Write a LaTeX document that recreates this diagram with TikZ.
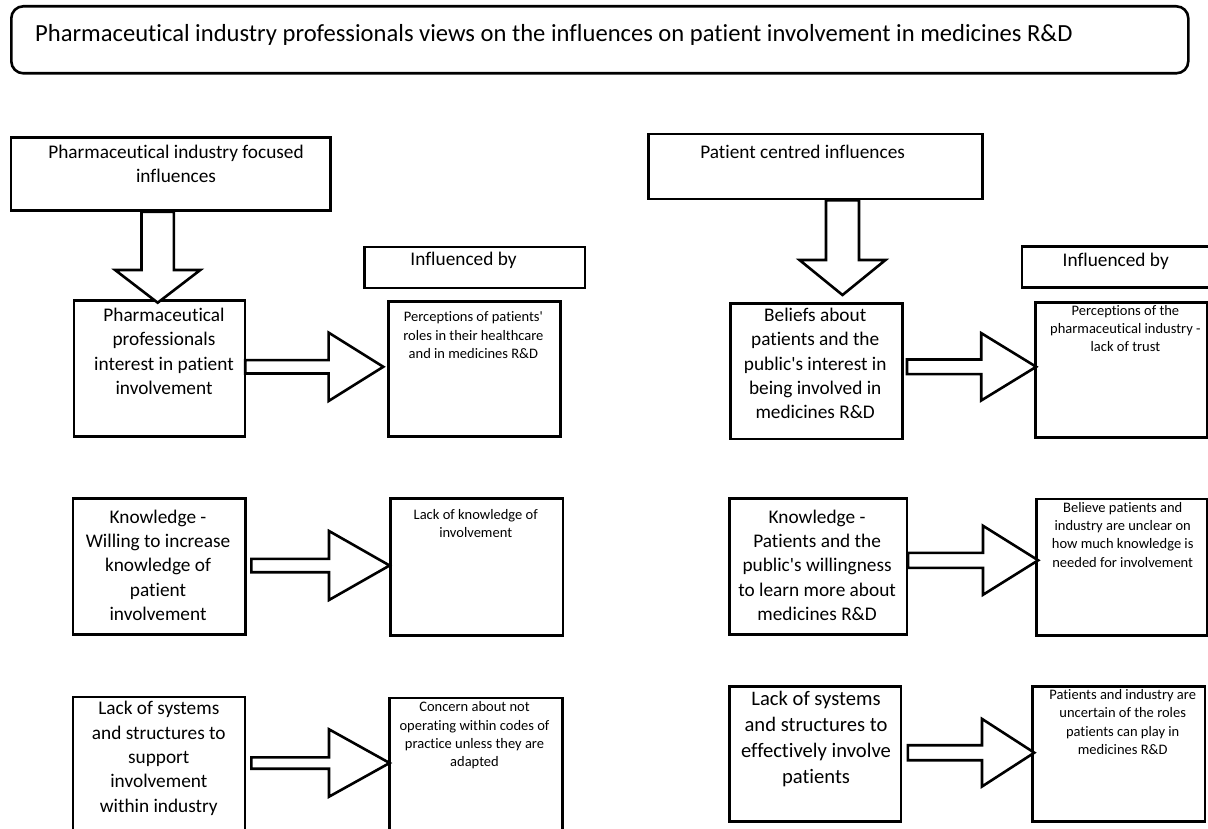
\documentclass[tikz,border=0pt]{standalone}
\usepackage{fontspec}
\setmainfont{Carlito}[Ligatures={NoCommon}]
\usetikzlibrary{calc}
\newcommand\apo{\textquotesingle}
% right block arrow: #1 src, #2 tgt, #3 start gap, #4 y centre (px), #5 shaft half, #6 head half, #7 head length, #8 tip offset
\newcommand\blockR[8]{%
  \draw[arrst] let \p1=(#1.east), \p2=(#2.west) in
   (\x1+#3pt,-#4pt+#5pt) -- (\x2-#7pt+#8pt,-#4pt+#5pt) -- (\x2-#7pt+#8pt,-#4pt+#6pt)
   -- (\x2+#8pt,-#4pt) -- (\x2-#7pt+#8pt,-#4pt-#6pt) -- (\x2-#7pt+#8pt,-#4pt-#5pt)
   -- (\x1+#3pt,-#4pt-#5pt) -- cycle;}
% down block arrow: #1 src, #2 tgt, #3 x centre, #4 shaft half, #5 head half, #6 head length, #7 tip offset (up)
\newcommand\blockD[7]{%
  \draw[arrst] let \p1=(#1.south), \p2=(#2.north) in
   (#3pt-#4pt,\y1) -- (#3pt-#4pt,\y2+#7pt+#6pt) -- (#3pt-#5pt,\y2+#7pt+#6pt)
   -- (#3pt,\y2+#7pt) -- (#3pt+#5pt,\y2+#7pt+#6pt) -- (#3pt+#4pt,\y2+#7pt+#6pt)
   -- (#3pt+#4pt,\y1) -- cycle;}
\begin{document}
\begin{tikzpicture}[x=1pt,y=-1pt,
  boxst/.style={draw=black, line width=2.6pt, inner sep=0pt, anchor=north west},
  arrst/.style={draw=black, line width=2.6pt, fill=white, line join=miter},
  big/.style={font=\fontsize{19.3}{24.3}\selectfont, align=center, inner sep=0pt, anchor=north},
  bigger/.style={font=\fontsize{20.6}{26}\selectfont, align=center, inner sep=0pt, anchor=north},
  small/.style={font=\fontsize{14.5}{18.3}\selectfont, align=center, inner sep=0pt, anchor=north}]
\clip (0,0) rectangle (1208,829);
\fill[white] (0,0) rectangle (1208,829);

% title
\node[boxst, rounded corners=12pt, minimum width=1177pt, minimum height=67pt] (title) at (10,5) {};
\node[font=\fontsize{24.6}{29}\selectfont, anchor=west, inner sep=0pt] (titletext) at (35,34.5) {Pharmaceutical industry professionals views on the influences on patient involvement in medicines R\&D};

% boxes
\node[boxst, minimum width=319.8pt, minimum height=73.3pt] (lt) at (9.6,136) {};
\node[boxst, minimum width=333.9pt, minimum height=65pt] (rt) at (647.3,132.7) {};
\node[boxst, minimum width=171.2pt, minimum height=135.7pt] (p1) at (72.6,299.3) {};
\node[boxst, minimum width=220.5pt, minimum height=41pt] (ib1) at (363,245.7) {};
\node[boxst, minimum width=172pt, minimum height=135pt] (r1) at (387,300) {};
\node[boxst, minimum width=172.3pt, minimum height=135.4pt] (b1) at (729,302.3) {};
\node[boxst, minimum width=195pt, minimum height=41pt] (ib2) at (1020.7,245) {};
\node[boxst, minimum width=171.7pt, minimum height=135pt] (s1) at (1034.3,301) {};
\node[boxst, minimum width=172.6pt, minimum height=136pt] (kl) at (71.6,497.3) {};
\node[boxst, minimum width=172.6pt, minimum height=136.7pt] (rkl) at (389.2,497.3) {};
\node[boxst, minimum width=172.2pt, minimum height=140pt] (ll) at (71.6,695.7) {};
\node[boxst, minimum width=172.6pt, minimum height=140pt] (rll) at (388.4,696.7) {};
\node[boxst, minimum width=177.5pt, minimum height=136pt] (kr) at (728,497.3) {};
\node[boxst, minimum width=171pt, minimum height=136.3pt] (rkr) at (1035,497.7) {};
\node[boxst, minimum width=171.7pt, minimum height=135pt] (lr) at (728,685) {};
\node[boxst, minimum width=172.5pt, minimum height=135pt] (rlr) at (1031.2,685) {};

% arrows
\blockD{lt}{p1}{157.7}{16.2}{42.6}{32.7}{-3.4}
\blockD{rt}{b1}{842.5}{16.5}{43}{35}{7.3}
\blockR{p1}{r1}{-1.2}{366.8}{6.7}{34.2}{54.7}{-3.7}
\blockR{kl}{rkl}{4.6}{565.5}{6.7}{34.5}{60.6}{0.4}
\blockR{ll}{rll}{5}{763}{5.7}{33.7}{60.6}{1.2}
\blockR{b1}{s1}{3.1}{366.8}{7.3}{33.7}{55}{1.9}
\blockR{kr}{rkr}{0}{560.3}{7.5}{34.5}{55.2}{3.2}
\blockR{lr}{rlr}{5.5}{752.7}{7.5}{33.8}{52.3}{3.1}

% texts
\node[big] (tlt) at (176,145) {Pharmaceutical industry focused\\influences};
\node[big] (trt) at (802.6,144.5) {Patient centred influences};
\node[big] (tib1) at (463.5,252) {Influenced by};
\node[big] (tib2) at (1115.7,252.5) {Influenced by};
\node[big] (tp1) at (164,307.8) {Pharmaceutical\\professionals\\interest in patient\\involvement};
\node[small] (tr1) at (473.4,311.7) {Perceptions of patients\apo\\roles in their healthcare\\and in medicines R\&D};
\node[big] (tb1) at (815.2,307.8) {Beliefs about\\patients and the\\public\apo s interest in\\being involved in\\medicines R\&D};
\node[small] (ts1) at (1125.4,305) {Perceptions of the\\pharmaceutical industry -\\lack of trust};
\node[big] (tkl) at (158,509.5) {Knowledge -\\Willing to increase\\knowledge of\\patient\\involvement};
\node[small] (trkl) at (475.7,509.3) {Lack of knowledge of\\involvement};
\node[big] (tll) at (158.8,701.2) {Lack of systems\\and structures to\\support\\involvement\\within industry};
\node[small] (trll) at (474.5,701.7) {Concern about not\\operating within codes of\\practice unless they are\\adapted};
\node[big] (tkr) at (817.1,509.5) {Knowledge -\\Patients and the\\public\apo s willingness\\to learn more about\\medicines R\&D};
\node[small] (trkr) at (1122.7,502) {Believe patients and\\industry are unclear on\\how much knowledge is\\needed for involvement};
\node[bigger] (tlr) at (816,691.2) {Lack of systems\\and structures to\\effectively involve\\patients};
\node[small] (trlr) at (1122.7,689.3) {Patients and industry are\\uncertain of the roles\\patients can play in\\medicines R\&D};
\end{tikzpicture}
\end{document}
